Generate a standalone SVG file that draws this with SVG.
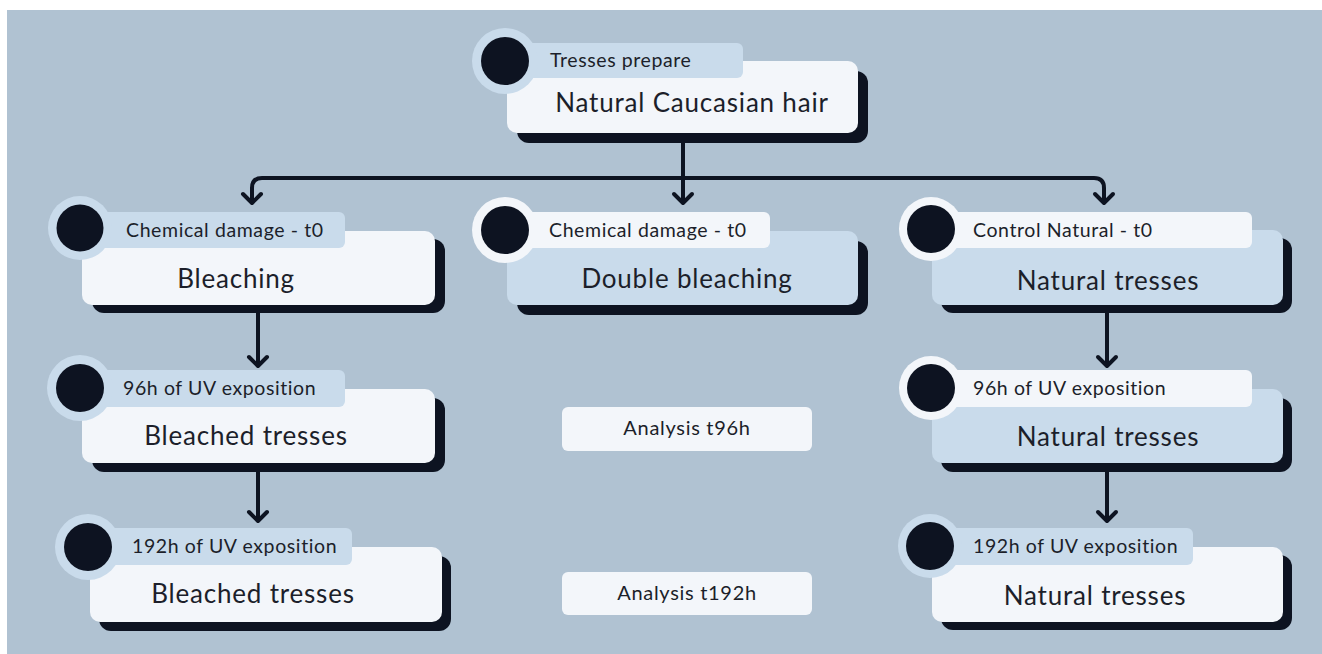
<svg xmlns="http://www.w3.org/2000/svg" width="1322" height="654" viewBox="0 0 1322 654">
<defs>
<style>
.shadow{fill:#0d1321}
.cardW{fill:#f3f6fa}
.cardB{fill:#c9dbeb}
.ringW{fill:#f3f6fa}
.ringB{fill:#c9dbeb}
.dot{fill:#0d1321}
.tag{font-family:Lato,"Liberation Sans",sans-serif;font-size:19.5px;letter-spacing:0.6px;fill:#1c1f2a}
.main{font-family:Lato,"Liberation Sans",sans-serif;font-size:26px;letter-spacing:0.8px;fill:#1c1f2a;text-anchor:middle}
.ana{font-family:Lato,"Liberation Sans",sans-serif;font-size:20px;letter-spacing:0.7px;fill:#1c1f2a;text-anchor:middle}
.conn{fill:none;stroke:#0d1321;stroke-width:4;marker-end:url(#arr)}
</style>
<marker id="arr" markerUnits="userSpaceOnUse" markerWidth="30" markerHeight="30" viewBox="-15 -15 30 30" refX="0" refY="0" orient="auto">
<path d="M-9,-9 L0,0 L-9,9" fill="none" stroke="#0d1321" stroke-width="4" stroke-linecap="round" stroke-linejoin="round"/>
</marker>
</defs>
<rect x="0" y="0" width="1322" height="654" fill="#ffffff"/>
<rect x="7" y="10" width="1315" height="644" fill="#b0c2d2"/>

<g id="connectors">
<path class="conn" d="M683,143 V203"/>
<path class="conn" d="M683,178 H262 Q252,178 252,188 V203"/>
<path class="conn" d="M683,178 H1094 Q1104,178 1104,188 V203"/>
<path class="conn" d="M258,313 V366"/>
<path class="conn" d="M258,472 V521"/>
<path class="conn" d="M1107,313 V366"/>
<path class="conn" d="M1107,472 V521"/>
</g>

<g id="node-top">
<rect class="shadow" x="517" y="71" width="351" height="72" rx="12"/>
<rect class="cardW" x="507" y="61" width="351" height="72" rx="10"/>
<rect class="cardB" x="500" y="43" width="243" height="35" rx="6"/>
<circle class="ringB" cx="505" cy="61" r="33"/>
<circle class="dot" cx="505" cy="61" r="24"/>
<text class="tag" x="550" y="67">Tresses prepare</text>
<text class="main" x="692" y="112">Natural Caucasian hair</text>
</g>

<g id="node-bleaching">
<rect class="shadow" x="92" y="239" width="353" height="74" rx="12"/>
<rect class="cardW" x="82" y="231" width="353" height="74" rx="10"/>
<rect class="cardB" x="80" y="212" width="265" height="36" rx="6"/>
<circle class="ringB" cx="80" cy="228" r="32"/>
<circle class="dot" cx="80" cy="228" r="23.5"/>
<text class="tag" x="126" y="237">Chemical damage - t0</text>
<text class="main" x="236" y="288">Bleaching</text>
</g>

<g id="node-double-bleaching">
<rect class="shadow" x="517" y="241" width="351" height="74" rx="12"/>
<rect class="cardB" x="507" y="231" width="351" height="74" rx="10"/>
<rect class="cardW" x="505" y="212" width="265" height="36" rx="6"/>
<circle class="ringW" cx="505" cy="230" r="33"/>
<circle class="dot" cx="505" cy="230" r="24"/>
<text class="tag" x="549" y="237">Chemical damage - t0</text>
<text class="main" x="687" y="288">Double bleaching</text>
</g>

<g id="node-natural-t0">
<rect class="shadow" x="941" y="238" width="351" height="75" rx="12"/>
<rect class="cardB" x="932" y="230" width="351" height="75" rx="10"/>
<rect class="cardW" x="931" y="212" width="321" height="36" rx="6"/>
<circle class="ringW" cx="931" cy="229" r="32"/>
<circle class="dot" cx="931" cy="229" r="24"/>
<text class="tag" x="973" y="237">Control Natural - t0</text>
<text class="main" x="1108" y="290">Natural tresses</text>
</g>

<g id="node-bleached-96">
<rect class="shadow" x="92" y="398" width="353" height="74" rx="12"/>
<rect class="cardW" x="82" y="389" width="353" height="74" rx="10"/>
<rect class="cardB" x="80" y="370" width="265" height="37" rx="6"/>
<circle class="ringB" cx="80" cy="388" r="33"/>
<circle class="dot" cx="80" cy="388" r="24"/>
<text class="tag" x="123" y="395">96h of UV exposition</text>
<text class="main" x="246" y="445">Bleached tresses</text>
</g>

<g id="node-natural-96">
<rect class="shadow" x="941" y="398" width="351" height="74" rx="12"/>
<rect class="cardB" x="932" y="389" width="351" height="74" rx="10"/>
<rect class="cardW" x="931" y="370" width="321" height="37" rx="6"/>
<circle class="ringW" cx="931" cy="388" r="32"/>
<circle class="dot" cx="931" cy="388" r="24"/>
<text class="tag" x="973" y="395">96h of UV exposition</text>
<text class="main" x="1108" y="446">Natural tresses</text>
</g>

<g id="node-bleached-192">
<rect class="shadow" x="99" y="556" width="352" height="75" rx="12"/>
<rect class="cardW" x="90" y="547" width="352" height="75" rx="10"/>
<rect class="cardB" x="88" y="528" width="264" height="37" rx="6"/>
<circle class="ringB" cx="88" cy="547" r="33"/>
<circle class="dot" cx="88" cy="547" r="24"/>
<text class="tag" x="132" y="553">192h of UV exposition</text>
<text class="main" x="253" y="603">Bleached tresses</text>
</g>

<g id="node-natural-192">
<rect class="shadow" x="941" y="555" width="351" height="75" rx="12"/>
<rect class="cardW" x="932" y="547" width="351" height="75" rx="10"/>
<rect class="cardB" x="930" y="528" width="263" height="37" rx="6"/>
<circle class="ringB" cx="930" cy="546" r="32"/>
<circle class="dot" cx="930" cy="546" r="24"/>
<text class="tag" x="973" y="553">192h of UV exposition</text>
<text class="main" x="1095" y="605">Natural tresses</text>
</g>

<g id="analysis-96">
<rect class="cardW" x="562" y="407" width="250" height="44" rx="6"/>
<text class="ana" x="687" y="435">Analysis t96h</text>
</g>

<g id="analysis-192">
<rect class="cardW" x="562" y="572" width="250" height="43" rx="6"/>
<text class="ana" x="687" y="600">Analysis t192h</text>
</g>
</svg>
